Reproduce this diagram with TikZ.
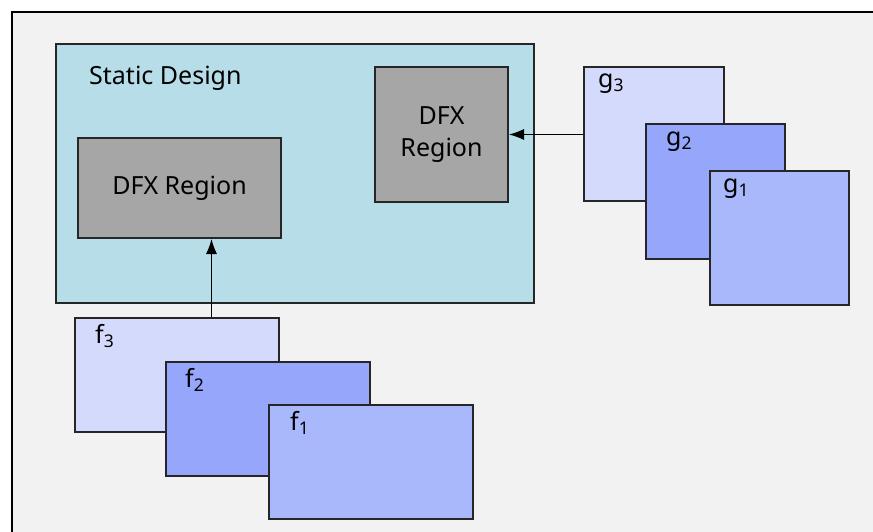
\documentclass[tikz,border=0pt]{standalone}
\usepackage{fontspec}
\setmainfont{Noto Sans}
\usepackage{tikz}
\usetikzlibrary{arrows.meta}

\definecolor{frameGray}{HTML}{F2F2F2}
\definecolor{staticBlue}{HTML}{B7DEE8}
\definecolor{regionGray}{HTML}{A6A6A6}
\definecolor{lightBlue}{HTML}{D4DAFC}
\definecolor{midBlue}{HTML}{96A6FA}
\definecolor{paleBlue}{HTML}{A9B7FB}

\begin{document}
\begin{tikzpicture}[
    x=1pt, y=-1pt,
    font=\fontsize{25}{32}\selectfont,
    box/.style={draw=black!85, line width=2pt, rectangle, anchor=north west, inner sep=0pt},
    region/.style={box, fill=regionGray, align=center},
    tag/.style={anchor=north west, inner sep=0pt}
    ]

    \useasboundingbox (0,0) rectangle (873,531);

    % Rahmen
    \draw[line width=2pt, fill=frameGray] (12,12) rectangle (890,545);

    % Statisches Design
    \node (staticDesign) [box, fill=staticBlue, minimum width=478pt, minimum height=259pt] at (55,43) {};
    \node [anchor=west, inner sep=0pt] at (89,78) {Static Design};
    \node (regionLeft) [region, minimum width=203pt, minimum height=100pt] at (77,137) {DFX Region};
    \node (regionRight) [region, minimum width=133pt, minimum height=135pt] at (374,66) {DFX\\Region};

    % Stapel f
    \node (fThree) [box, fill=lightBlue, minimum width=204pt, minimum height=114pt] at (74,317) {};
    \node (fTwo) [box, fill=midBlue, minimum width=204pt, minimum height=114pt] at (165,361) {};
    \node (fOne) [box, fill=paleBlue, minimum width=204pt, minimum height=114pt] at (268,404) {};
    \node [tag] at (95,324) {f\textsubscript{3}};
    \node [tag] at (185,368) {f\textsubscript{2}};
    \node [tag] at (290,411) {f\textsubscript{1}};

    % Stapel g
    \node (gThree) [box, fill=lightBlue, minimum width=140pt, minimum height=134pt] at (583,66) {};
    \node (gTwo) [box, fill=midBlue, minimum width=139pt, minimum height=135pt] at (645,123) {};
    \node (gOne) [box, fill=paleBlue, minimum width=139pt, minimum height=134pt] at (709,170) {};
    \node [tag] at (598,74) {g\textsubscript{3}};
    \node [tag] at (666,132) {g\textsubscript{2}};
    \node [tag] at (723,179) {g\textsubscript{1}};

    % Pfeile
    \coordinate (fEntry) at ([xshift=32pt]regionLeft.south);
    \draw[-{Latex[length=15pt,width=11pt]}, line width=1pt] (fThree.north -| fEntry) -- (fEntry);
    \draw[-{Latex[length=15pt,width=11pt]}, line width=1pt] (gThree.west |- regionRight.east) -- (regionRight.east);

\end{tikzpicture}
\end{document}
